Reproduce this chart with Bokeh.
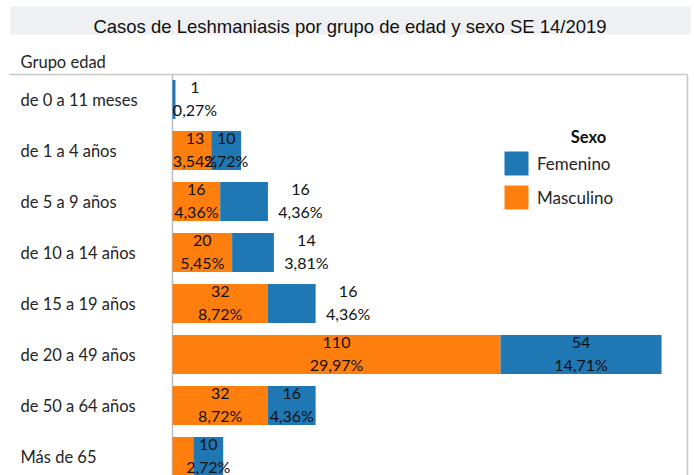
from bokeh.plotting import figure
from bokeh.models import Range1d, ColumnDataSource, Legend, LegendItem
from bokeh.core.properties import value
from bokeh.embed import file_html
from bokeh.resources import INLINE

# ---------------- data ----------------
categories = ["de 0 a 11 meses", "de 1 a 4 años", "de 5 a 9 años", "de 10 a 14 años",
              "de 15 a 19 años", "de 20 a 49 años", "de 50 a 64 años", "Más de 65"]
masculino = [0, 13, 16, 20, 32, 110, 32, 7]
femenino = [1, 10, 16, 14, 16, 54, 16, 10]
series_names = ["Femenino", "Masculino"]
title_text = "Casos de Leshmaniasis por grupo de edad y sexo SE 14/2019"
axis_title = "Grupo edad"
legend_title = "Sexo"

# label placement style per segment (as in the original chart)
masc_label_pos = ["none", "start", "in", "in", "in", "in", "in", "none"]
fem_label_pos = ["start", "in", "out", "out", "out", "in", "in", "in"]

# ---------------- layout ----------------
FIG_W, FIG_H = 694, 475
PX_UNIT = 2.982      # pixels per case
ROW_PX = 51          # pixels per category row
AXIS_PX = 172        # x of value 0
ROW0_PX = 99         # y of first row centre
BAR_H = 39 / ROW_PX

BLUE = "#1f77b4"
ORANGE = "#ff7f0e"
TXT = "#252525"
FONT = "Lato"


def fx(px):
    return (px - AXIS_PX) / PX_UNIT


def fy(py):
    return (py - ROW0_PX) / ROW_PX


p = figure(width=FIG_W, height=FIG_H, output_backend="svg", toolbar_location=None,
           x_range=Range1d(fx(0), fx(FIG_W)), y_range=Range1d(start=fy(FIG_H), end=fy(0)),
           min_border=0, min_border_left=0, min_border_right=0,
           min_border_top=0, min_border_bottom=0)
p.xaxis.visible = False
p.yaxis.visible = False
p.grid.visible = False
p.outline_line_color = None
p.background_fill_color = "white"
p.border_fill_color = "white"

# title band
p.quad(left=[fx(10)], right=[fx(690)], top=[fy(6)], bottom=[fy(34)],
       fill_color="#eff0f2", line_color=None)
p.text(x=[fx(349.5)], y=[fy(26)], text=[title_text], text_align="center",
       text_baseline="alphabetic", text_font=value("Liberation Sans"),
       text_font_size="18.5px", text_color="#111111")

# axis title
p.text(x=[fx(20)], y=[fy(61)], text=[axis_title], text_align="left",
       text_baseline="middle", text_font=value(FONT), text_font_size="16.5px",
       text_color=TXT)

# frame lines
p.segment(x0=[fx(9)], x1=[fx(687)], y0=[fy(74)], y1=[fy(74)],
          line_color="#c8c8c8", line_width=1.5)
p.segment(x0=[0], x1=[0], y0=[fy(74)], y1=[fy(FIG_H)], line_color="#bdbdbd", line_width=1.5)
p.segment(x0=[fx(687)], x1=[fx(687)], y0=[fy(74)], y1=[fy(FIG_H)],
          line_color="#c8c8c8", line_width=1.5)

# category labels
ys = list(range(len(categories)))
p.text(x=[fx(20)] * len(categories), y=ys, text=categories, text_align="left",
       text_baseline="middle", text_font=value(FONT), text_font_size="16.5px",
       text_color=TXT)

# bars
src = ColumnDataSource(dict(
    y=ys,
    m_left=[0] * len(ys),
    m_right=masculino,
    f_left=masculino,
    f_right=[m + f for m, f in zip(masculino, femenino)],
))
r_m = p.hbar(y="y", left="m_left", right="m_right", height=BAR_H, source=src,
             fill_color=ORANGE, line_color=None)
r_f = p.hbar(y="y", left="f_left", right="f_right", height=BAR_H, source=src,
             fill_color=BLUE, line_color=None)

# data labels
total = sum(masculino) + sum(femenino)
lx, ly, loff, lcount, lpct = [], [], [], [], []
for i in ys:
    for left, val, pos in ((0, masculino[i], masc_label_pos[i]),
                           (masculino[i], femenino[i], fem_label_pos[i])):
        if pos == "none" or val == 0:
            continue
        if pos == "in":
            x, off = left + val / 2, 0
        elif pos == "out":
            x, off = left + val, 32.5
        else:
            x, off = 0, 22.5
        lx.append(x)
        ly.append(i)
        loff.append(off)
        lcount.append(str(val))
        lpct.append(f"{val / total * 100:.2f}%".replace(".", ","))

lsrc = ColumnDataSource(dict(x=lx, y=ly, off=loff, count=lcount, pct=lpct))
p.text(x="x", y="y", text="count", x_offset="off", y_offset=-12, source=lsrc,
       text_align="center", text_baseline="middle", text_font=value(FONT),
       text_font_size="16px", text_color="#111111")
p.text(x="x", y="y", text="pct", x_offset="off", y_offset=9.5, source=lsrc,
       text_align="center", text_baseline="middle", text_font=value(FONT),
       text_font_size="16px", text_color="#111111")

# legend
p.text(x=[fx(588)], y=[fy(136)], text=[legend_title], text_align="center",
       text_baseline="middle", text_font=value(FONT), text_font_size="16.5px",
       text_font_style="bold", text_color="#111111")
legend = Legend(items=[LegendItem(label=series_names[0], renderers=[r_f]),
                       LegendItem(label=series_names[1], renderers=[r_m])],
                location=(501, 263), orientation="vertical",
                glyph_width=30, glyph_height=30, label_height=30, spacing=4,
                padding=0, margin=0, label_standoff=6,
                label_text_font=FONT, label_text_font_size="17px",
                label_text_color=TXT, border_line_alpha=0,
                background_fill_alpha=0)
p.add_layout(legend)

open("out.html", "w").write(file_html(p, INLINE))
